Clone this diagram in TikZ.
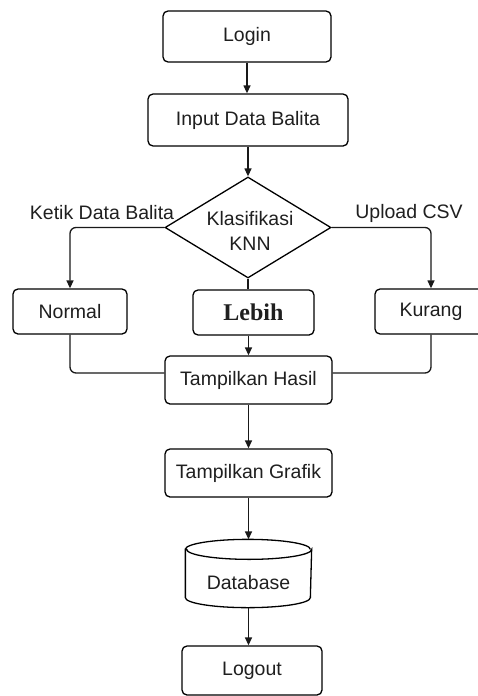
\documentclass[tikz,border=0pt]{standalone}
\usepackage{fontspec}
\setmainfont{Liberation Sans}
\newfontfamily\lebihfont{Liberation Serif}
\usetikzlibrary{arrows.meta,shapes.geometric,calc}
\begin{document}
\begin{tikzpicture}[x=1pt,y=-1pt,
  line width=1.3pt,
  every node/.style={font=\fontsize{19.5}{22}\selectfont, text=black!88},
  procbox/.style={draw, fill=white, rounded corners=5pt, inner sep=0pt},
  flow/.style={draw=black!90, -{Triangle[width=7pt,length=8pt]}},
  link/.style={draw=black!90, rounded corners=6pt}]
  \useasboundingbox (0,0) rectangle (478,696);
  \clip (0,0) rectangle (478,696);

  % process boxes
  \node[procbox, minimum width=168pt, minimum height=51pt] (login) at (247,36.5) {Login};
  \node[procbox, minimum width=200pt, minimum height=52pt] (input) at (248,120) {Input Data Balita};
  \node[draw, fill=white, shape=diamond, inner sep=0pt, minimum width=166pt, minimum height=101pt] (knn) at (248,227.5) {};
  \node[align=center] (knnlbl) at (250,231) {Klasifikasi\\[3pt]KNN};
  \node[procbox, minimum width=114pt, minimum height=45pt] (normal) at (70,311.5) {Normal};
  \node[procbox, minimum width=121pt, minimum height=45pt] (lebih) at (253.5,312.5) {\lebihfont\bfseries\fontsize{24}{26}\selectfont Lebih};
  \node[procbox, minimum width=112pt, minimum height=45pt] (kurang) at (431,311.5) {Kurang};
  \node[procbox, minimum width=167pt, minimum height=48pt] (hasil) at (248.5,380) {Tampilkan Hasil};
  \node[procbox, minimum width=167pt, minimum height=48pt] (grafik) at (248.5,473) {Tampilkan Grafik};
  \node[procbox, minimum width=140pt, minimum height=49pt] (logout) at (252,670.5) {Logout};

  % database cylinder
  \node[inner sep=0pt, minimum width=125pt, minimum height=67pt] (db) at (248.5,573.5) {};
  \draw[fill=white] (db.north west) ++(0,10)
    -- ($(db.south west)+(0,-10)$)
    arc[start angle=180, end angle=360, x radius=62.5pt, y radius=10pt]
    -- ($(db.north east)+(0,10)$)
    arc[start angle=0, end angle=-180, x radius=62.5pt, y radius=10pt] -- cycle;
  \draw ($(db.north west)+(0,10)$)
    arc[start angle=180, end angle=0, x radius=62.5pt, y radius=10pt];
  \node at ($(db.center)+(0,9)$) {Database};

  % branch labels
  \node (ketik) at (102,213) {Ketik Data Balita};
  \node (upload) at (409,213) {Upload CSV};

  % connectors
  \draw[flow] (login.south) -- (login.south |- input.north);
  \draw[flow] (input.south) -- (knn.north);
  \draw[link, -{Triangle[width=7pt,length=8pt]}] (knn.west) -| (normal.north);
  \draw[link, -{Triangle[width=7pt,length=8pt]}] (knn.east) -| (kurang.north);
  \draw[link] (knn.south) -- (knn.south |- lebih.north);
  \draw[flow] (hasil.north |- lebih.south) -- (hasil.north);
  \draw[link] (normal.south) |- ($(hasil.west)+(0,-7)$);
  \draw[link] (kurang.south) |- ($(hasil.east)+(0,-7)$);
  \draw[flow] (hasil.south) -- (grafik.north);
  \draw[flow] (grafik.south) -- (db.north);
  \draw[flow] (db.south) -- (db.south |- logout.north);
\end{tikzpicture}
\end{document}
